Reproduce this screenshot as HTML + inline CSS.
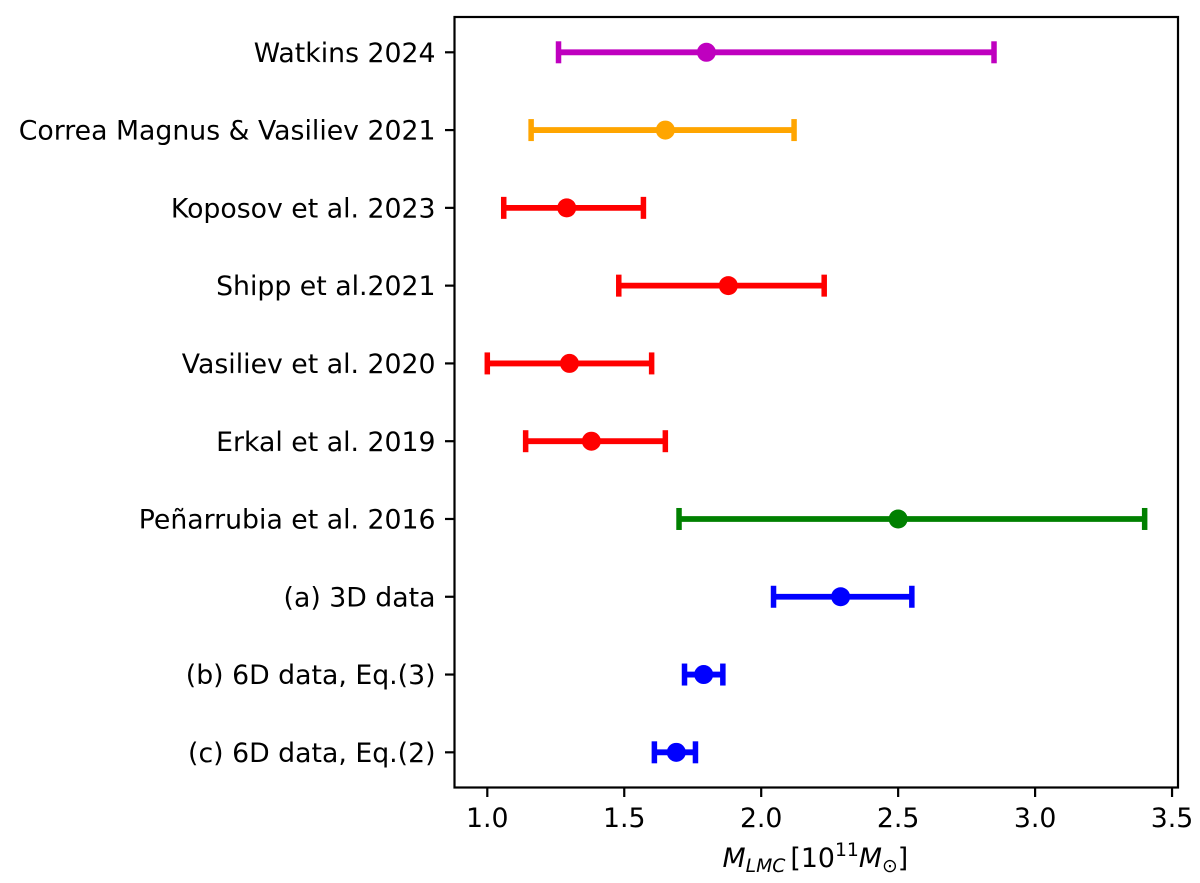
<!DOCTYPE html>
<html>
<head>
<meta charset="utf-8">
<style>
html,body{margin:0;padding:0;background:#fff;}
svg{display:block;}
text{font-family:"DejaVu Sans",sans-serif;fill:#000;}
</style>
</head>
<body>
<svg id="chart" width="1200" height="883" viewBox="0 0 1200 883" xmlns="http://www.w3.org/2000/svg">
<rect x="454.5" y="17" width="723.5" height="770.5" fill="#fff"/>
<g id="marks"></g>
<rect x="454.5" y="17" width="723.5" height="770.5" fill="none" stroke="#000" stroke-width="2.2"/>
<g id="xaxis"></g>
<g id="yaxis"></g>
<text x="722.5" y="867" font-size="26.8"><tspan font-style="italic">M</tspan><tspan font-style="italic" font-size="18.8" dy="5">LMC</tspan><tspan dy="-5" dx="5">[10</tspan><tspan font-size="18.8" dy="-11">11</tspan><tspan font-style="italic" dy="11">M</tspan><tspan font-size="18.8" dy="5">⊙</tspan><tspan dy="-5">]</tspan></text>
</svg>
<script>
const categories = ["Watkins 2024","Correa Magnus & Vasiliev 2021","Koposov et al. 2023","Shipp et al.2021","Vasiliev et al. 2020","Erkal et al. 2019","Peñarrubia et al. 2016","(a) 3D data","(b) 6D data, Eq.(3)","(c) 6D data, Eq.(2)"];
const centers = [1.80,1.65,1.29,1.88,1.30,1.38,2.50,2.29,1.79,1.69];
const lowers = [1.26,1.16,1.06,1.48,1.00,1.14,1.70,2.045,1.72,1.61];
const uppers = [2.85,2.12,1.57,2.23,1.60,1.65,3.40,2.55,1.86,1.76];
const colors = ["#bf00bf","#ffa500","#ff0000","#ff0000","#ff0000","#ff0000","#008000","#0000ff","#0000ff","#0000ff"];
const xTicks = [1.0,1.5,2.0,2.5,3.0,3.5];

const NS = "http://www.w3.org/2000/svg";
function xScale(v){ return 487.3 + (v - 1) * 273.9; }
function yScale(i){ return 52.3 + i * 77.78; }
function make(tag, attrs, parent){
  const el = document.createElementNS(NS, tag);
  for (const k in attrs) el.setAttribute(k, attrs[k]);
  parent.appendChild(el);
  return el;
}
const marks = document.getElementById("marks");
const xaxis = document.getElementById("xaxis");
const yaxis = document.getElementById("yaxis");
const BOTTOM = 787.5, LEFT = 454.5;

categories.forEach(function(name, i){
  const y = yScale(i);
  const g = make("g", {}, marks);
  
  
  const c = colors[i];
  make("line", {x1:xScale(lowers[i]), x2:xScale(uppers[i]), y1:y, y2:y, stroke:c, "stroke-width":5.8}, g);
  make("line", {x1:xScale(lowers[i]), x2:xScale(lowers[i]), y1:y-11, y2:y+11, stroke:c, "stroke-width":5.5}, g);
  make("line", {x1:xScale(uppers[i]), x2:xScale(uppers[i]), y1:y-11, y2:y+11, stroke:c, "stroke-width":5.5}, g);
  make("circle", {cx:xScale(centers[i]), cy:y, r:9.5, fill:c}, g);

  const tick = make("line", {x1:LEFT-9.5, x2:LEFT, y1:y, y2:y, stroke:"#000", "stroke-width":2.2}, yaxis);
  
  
  const label = make("text", {x:435.5, y:y+9.6, "text-anchor":"end", "font-size":26.72}, yaxis);
  
  
  label.textContent = name;
});

xTicks.forEach(function(v){
  const x = xScale(v);
  const tick = make("line", {x1:x, x2:x, y1:BOTTOM, y2:BOTTOM+9.5, stroke:"#000", "stroke-width":2.2}, xaxis);
  
  
  const label = make("text", {x:x, y:827, "text-anchor":"middle", "font-size":26.72}, xaxis);
  
  
  label.textContent = v.toFixed(1);
});
</script>
</body>
</html>
